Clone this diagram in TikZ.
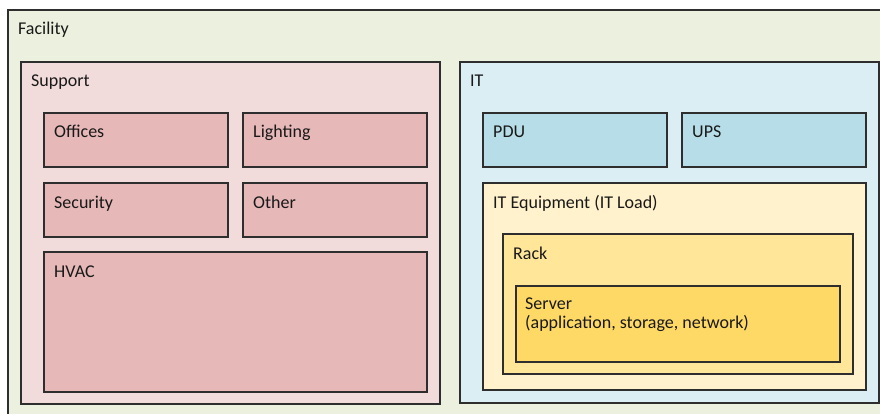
\documentclass[tikz,border=0pt]{standalone}
\usepackage{fontspec}
\setmainfont{Carlito}
\definecolor{facfill}{HTML}{EBF1DE}
\definecolor{supfill}{HTML}{F2DCDB}
\definecolor{supitem}{HTML}{E6B8B7}
\definecolor{itfill}{HTML}{DAEEF3}
\definecolor{ititem}{HTML}{B7DEE8}
\definecolor{eqfill}{HTML}{FFF2CC}
\definecolor{rackfill}{HTML}{FFE699}
\definecolor{srvfill}{HTML}{FFD966}
\definecolor{edge}{HTML}{2E2E2E}
\tikzset{
  area/.style={draw=edge, line width=1.1pt},
  lbl/.style={anchor=base west, inner sep=0pt, font=\fontsize{18}{20}\selectfont, text=black!90},
}
\newcommand{\zone}[6]{%
  % name, fill, left, top, right, bottom
  \path[area, fill=#2] (#3,#4) rectangle (#5,#6);
  \coordinate (#1) at (#3,#4);
}
\begin{document}
\begin{tikzpicture}[x=1pt,y=-1pt]
  \useasboundingbox (0,0) rectangle (880,414);
  \clip (0,0) rectangle (880,414);
  \fill[white] (0,0) rectangle (880,414);
  % Facility
  \zone{fac}{facfill}{8}{10}{895}{430}
  \node[lbl] (facL) at ([shift={(10,25)}]fac) {Facility};
  % Support
  \zone{sup}{supfill}{21}{62}{440}{404}
  \node[lbl] (supL) at ([shift={(10,25)}]sup) {Support};
  \zone{off}{supitem}{44}{113}{228}{167}
  \node[lbl] (offL) at ([shift={(10,25)}]off) {Offices};
  \zone{lig}{supitem}{243}{113}{427}{167}
  \node[lbl] (ligL) at ([shift={(10,25)}]lig) {Lighting};
  \zone{sec}{supitem}{44}{183}{228}{237}
  \node[lbl] (secL) at ([shift={(10,25)}]sec) {Security};
  \zone{oth}{supitem}{243}{183}{427}{237}
  \node[lbl] (othL) at ([shift={(10,25)}]oth) {Other};
  \zone{hva}{supitem}{44}{252}{427}{392}
  \node[lbl] (hvaL) at ([shift={(10,25)}]hva) {HVAC};
  % IT
  \zone{it}{itfill}{460}{62}{879}{403}
  \node[lbl] (itL) at ([shift={(10,25)}]it) {IT};
  \zone{pdu}{ititem}{483}{113}{667}{167}
  \node[lbl] (pduL) at ([shift={(10,25)}]pdu) {PDU};
  \zone{ups}{ititem}{682}{113}{866}{167}
  \node[lbl] (upsL) at ([shift={(10,25)}]ups) {UPS};
  \zone{eq}{eqfill}{483}{183}{866}{390}
  \node[lbl] (eqL) at ([shift={(10,25)}]eq) {IT Equipment (IT Load)};
  \zone{rack}{rackfill}{503}{234}{853}{374}
  \node[lbl] (rackL) at ([shift={(10,25)}]rack) {Rack};
  \zone{srv}{srvfill}{516}{286}{840}{362}
  \node[lbl] (srvL) at ([shift={(9,23)}]srv) {Server};
  \node[lbl] (srvL2) at ([shift={(9,42)}]srv) {(application, storage, network)};
\end{tikzpicture}
\end{document}
